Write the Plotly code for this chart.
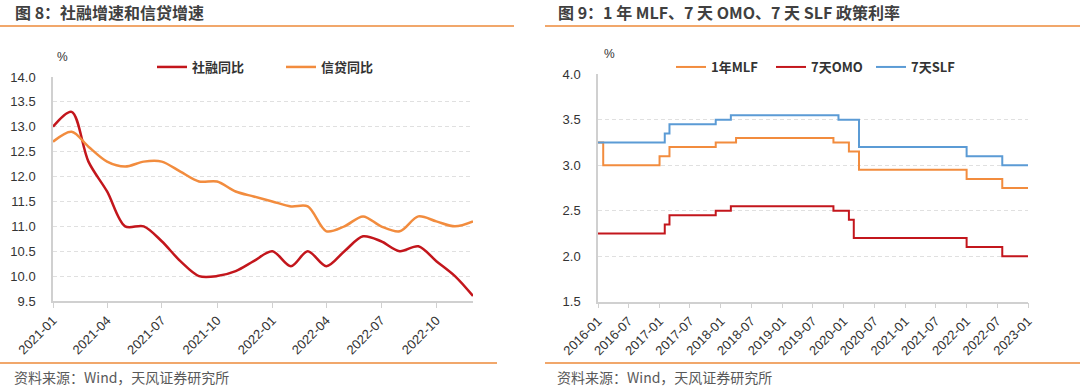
import plotly.graph_objects as go

W, H = 1080, 389

# ---------- Data: left chart ----------
months_left = ["2021-01-01","2021-02-01","2021-03-01","2021-04-01","2021-05-01","2021-06-01",
               "2021-07-01","2021-08-01","2021-09-01","2021-10-01","2021-11-01","2021-12-01",
               "2022-01-01","2022-02-01","2022-03-01","2022-04-01","2022-05-01","2022-06-01",
               "2022-07-01","2022-08-01","2022-09-01","2022-10-01","2022-11-01","2022-12-01"]
tsf_yoy = [13.0, 13.3, 12.3, 11.7, 11.0, 11.0, 10.7, 10.3, 10.0, 10.0, 10.1, 10.3,
           10.5, 10.2, 10.5, 10.2, 10.5, 10.8, 10.7, 10.5, 10.6, 10.3, 10.0, 9.6]
loan_yoy = [12.7, 12.9, 12.6, 12.3, 12.2, 12.3, 12.3, 12.1, 11.9, 11.9, 11.7, 11.6,
            11.5, 11.4, 11.4, 10.9, 11.0, 11.2, 11.0, 10.9, 11.2, 11.1, 11.0, 11.1]

# ---------- Data: right chart (step changes) ----------
mlf_dates = ["2016-01-01","2016-02-01","2017-01-01","2017-03-01","2017-12-01","2018-04-01",
             "2019-11-01","2020-02-01","2020-04-01","2022-01-01","2022-08-01","2023-01-01"]
mlf_vals = [3.25, 3.00, 3.10, 3.20, 3.25, 3.30, 3.25, 3.15, 2.95, 2.85, 2.75, 2.75]

omo_dates = ["2016-01-01","2017-02-01","2017-03-01","2017-12-01","2018-03-01",
             "2019-11-01","2020-02-01","2020-03-01","2022-01-01","2022-08-01","2023-01-01"]
omo_vals = [2.25, 2.35, 2.45, 2.50, 2.55, 2.50, 2.40, 2.20, 2.10, 2.00, 2.00]

slf_dates = ["2016-01-01","2017-02-01","2017-03-01","2017-12-01","2018-03-01",
             "2019-12-01","2020-04-01","2022-01-01","2022-08-01","2023-01-01"]
slf_vals = [3.25, 3.35, 3.45, 3.50, 3.55, 3.50, 3.20, 3.10, 3.00, 3.00]

RED = "#C3161C"
ORANGE = "#F28C3E"
BLUE = "#5B9BD5"
SEP = "#EC8A3A"
TXT = "#333333"
AXIS = "#D0D0D0"
GRID = "#E0E0E0"

def px(x):
    return x / W

def py(y):
    return 1 - y / H

fig = go.Figure()

fig.add_trace(go.Scatter(x=months_left, y=tsf_yoy, name="社融同比", mode="lines",
                         line=dict(color=RED, width=2.5, shape="spline", smoothing=0.9),
                         xaxis="x", yaxis="y", legend="legend"))
fig.add_trace(go.Scatter(x=months_left, y=loan_yoy, name="信贷同比", mode="lines",
                         line=dict(color=ORANGE, width=2.5, shape="spline", smoothing=0.9),
                         xaxis="x", yaxis="y", legend="legend"))

fig.add_trace(go.Scatter(x=mlf_dates, y=mlf_vals, name="1年MLF", mode="lines",
                         line=dict(color=ORANGE, width=2, shape="hv"),
                         xaxis="x2", yaxis="y2", legend="legend2"))
fig.add_trace(go.Scatter(x=omo_dates, y=omo_vals, name="7天OMO", mode="lines",
                         line=dict(color=RED, width=2, shape="hv"),
                         xaxis="x2", yaxis="y2", legend="legend2"))
fig.add_trace(go.Scatter(x=slf_dates, y=slf_vals, name="7天SLF", mode="lines",
                         line=dict(color=BLUE, width=2, shape="hv"),
                         xaxis="x2", yaxis="y2", legend="legend2"))

tickfont = dict(family="Liberation Sans, Arial, sans-serif", size=13, color=TXT)

common_x = dict(type="date", tickformat="%Y-%m", tickangle=-45, tickfont=tickfont,
                showline=True, linecolor=AXIS, linewidth=1.5, ticks="outside",
                ticklen=5, tickcolor=AXIS, tickwidth=1, showgrid=False, zeroline=False,
                fixedrange=True, automargin=False)
common_y = dict(tickfont=tickfont, showline=True, linecolor=AXIS, linewidth=1.5,
                ticks="", showgrid=True, gridcolor=GRID, griddash="4px,3px", gridwidth=1,
                zeroline=False, tickformat=".1f", ticklabelstandoff=13, automargin=False,
                fixedrange=True)

fig.update_layout(
    width=W, height=H,
    margin=dict(l=0, r=0, t=0, b=0, pad=0, autoexpand=False),
    paper_bgcolor="white", plot_bgcolor="white",
    showlegend=True,
    xaxis=dict(domain=[px(53), px(473)], range=["2021-01-01", "2022-12-01"], dtick="M3",
               tick0="2021-01-01", anchor="y", **common_x),
    yaxis=dict(domain=[py(301), py(77)], range=[9.5, 14.0], dtick=0.5, anchor="x", **common_y),
    xaxis2=dict(domain=[px(598), px(1028)], range=["2016-01-01", "2023-01-01"], dtick="M6",
                tick0="2016-01-01", anchor="y2", **common_x),
    yaxis2=dict(domain=[py(301.7), py(74.3)], range=[1.5, 4.0], dtick=0.5, anchor="x2", **common_y),
    legend=dict(orientation="h", x=px(152), y=py(67), xanchor="left", yanchor="middle",
                bgcolor="rgba(0,0,0,0)", entrywidth=84, entrywidthmode="pixels",
                font=dict(family="Noto Sans CJK SC, sans-serif", size=13, color=TXT, weight="bold"),
                itemwidth=30, tracegroupgap=0),
    legend2=dict(orientation="h", x=px(671), y=py(67), xanchor="left", yanchor="middle",
                 bgcolor="rgba(0,0,0,0)", entrywidth=55, entrywidthmode="pixels",
                 font=dict(family="Noto Sans CJK SC, Liberation Sans, sans-serif", size=13, color=TXT, weight="bold"),
                 itemwidth=30, tracegroupgap=0),
)

title_font = dict(family="Noto Sans CJK SC, sans-serif", size=16, color="#404040", weight="bold")
foot_font = dict(family="Noto Sans CJK SC, sans-serif", size=14, color="#595959")
unit_font = dict(family="Liberation Sans, Arial, sans-serif", size=12, color=TXT)

annos = [
    dict(text="图 8：社融增速和信贷增速", x=px(13), y=py(12), font=title_font),
    dict(text="图 9：1 年 MLF、7 天 OMO、7 天 SLF 政策利率", x=px(556), y=py(12), font=title_font),
    dict(text="资料来源：Wind，天风证券研究所", x=px(12), y=py(377), font=foot_font),
    dict(text="资料来源：Wind，天风证券研究所", x=px(555), y=py(377), font=foot_font),
    dict(text="%", x=px(55), y=py(57), font=unit_font),
    dict(text="%", x=px(602), y=py(54), font=unit_font),
]
for a in annos:
    fig.add_annotation(xref="paper", yref="paper", xanchor="left", yanchor="middle",
                       showarrow=False, **a)

for (x0, x1, y) in [(0, 514, 26), (545, 1080, 26), (0, 497, 363), (545, 1080, 363)]:
    fig.add_shape(type="line", xref="paper", yref="paper", x0=px(x0), x1=px(x1),
                  y0=py(y), y1=py(y), line=dict(color=SEP, width=1.5))

fig.write_html("out.html", config={"displayModeBar": False},
               post_script="document.body.style.margin='0';document.body.style.padding='0';")
